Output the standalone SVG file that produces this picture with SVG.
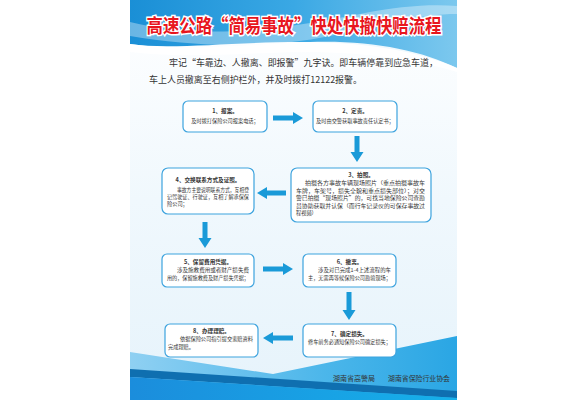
<svg xmlns="http://www.w3.org/2000/svg" width="588" height="400" viewBox="0 0 588 400">
<defs>
<linearGradient id="bg" x1="0" y1="0" x2="0" y2="1">
<stop offset="0" stop-color="#ffffff"/><stop offset="0.5" stop-color="#f0f8fd"/><stop offset="1" stop-color="#e6f3fb"/>
</linearGradient>
<linearGradient id="hdr" x1="0" y1="0" x2="1" y2="0">
<stop offset="0" stop-color="#1a8fd6"/><stop offset="0.5" stop-color="#3aa8e4"/><stop offset="1" stop-color="#7cc8ee"/>
</linearGradient>
<linearGradient id="bot" x1="0" y1="0" x2="1" y2="0">
<stop offset="0" stop-color="#8fd0f2"/><stop offset="0.6" stop-color="#4bb6ea"/><stop offset="1" stop-color="#2aa6e4"/>
</linearGradient>
<linearGradient id="bot2" x1="0" y1="0" x2="1" y2="0">
<stop offset="0" stop-color="#1b8ddc"/><stop offset="1" stop-color="#16b0ea"/>
</linearGradient>
<style>
.box{fill:#ffffff;stroke:#3da3de;stroke-width:1.2}
.arr{fill:#1a9ad8}
.t{font-family:"Noto Sans CJK SC","Liberation Sans",sans-serif;fill:#333333}
.bt{font-size:5.6px;font-weight:bold;text-anchor:middle}
.bd{font-size:5.2px}
</style>
</defs>
<rect x="0" y="0" width="588" height="400" fill="#ffffff"/>
<rect x="130" y="0" width="327" height="400" fill="url(#bg)"/>
<!-- header -->
<path d="M130,0 H457 V68 C420,52 370,42 300,42 C230,42 170,50 130,44 Z" fill="url(#hdr)"/>
<path d="M130,22 C200,40 280,30 360,14 C400,6 430,4 457,6 V14 C420,14 380,24 330,36 C260,50 190,46 130,36 Z" fill="#ffffff" opacity="0.35"/>
<path d="M130,44 C190,52 250,44 310,42 C370,40 420,50 457,68 V72 C410,58 360,52 300,52 C230,54 180,58 130,52 Z" fill="#ffffff" opacity="0.9"/>
<text class="t" x="294" y="33" font-size="19" font-weight="bold" fill="#e8161e" stroke="#ffffff" stroke-width="3" paint-order="stroke" text-anchor="middle" textLength="295" lengthAdjust="spacingAndGlyphs" style="fill:#e8161e">高速公路“简易事故”快处快撤快赔流程</text>
<text class="t" x="169" y="66" font-size="9" textLength="269" lengthAdjust="spacingAndGlyphs">牢记“车靠边、人撤离、即报警”九字诀。即车辆停靠到应急车道，</text>
<text class="t" x="149" y="83" font-size="9" textLength="213" lengthAdjust="spacingAndGlyphs">车上人员撤离至右侧护栏外，并及时拨打12122报警。</text>
<!-- bottom -->
<path d="M130,352 L273,374 L457,336 V400 H130 Z" fill="url(#bot)"/>
<path d="M130,369 L457,391 V398 L130,377 Z" fill="#0f6fb0"/>
<path d="M130,377 L457,398 V400 H130 Z" fill="url(#bot2)"/>
<g id="footer">
<text class="t" x="333" y="381" font-size="6.5" textLength="42" lengthAdjust="spacingAndGlyphs">湖南省高警局</text>
<text class="t" x="388" y="381" font-size="6.5" textLength="62" lengthAdjust="spacingAndGlyphs">湖南省保险行业协会</text>
</g>
<!-- connectors -->
<g id="connectors">
<polygon class="arr" points="273,115.5 293,115.5 293,112 303,118 293,124 293,120.5 273,120.5"/>
<polygon class="arr" points="354.5,136 359.5,136 359.5,152 363.5,152 357,162 350.5,152 354.5,152"/>
<polygon class="arr" points="286,190.5 267,190.5 267,187 257,193 267,199 267,195.5 286,195.5"/>
<polygon class="arr" points="202.5,222 207.5,222 207.5,238 211.5,238 205,248 198.5,238 202.5,238"/>
<polygon class="arr" points="263,266.5 283,266.5 283,263 293,269 283,275 283,271.5 263,271.5"/>
<polygon class="arr" points="346.5,292 351.5,292 351.5,310 355.5,310 349,320 342.5,310 346.5,310"/>
<polygon class="arr" points="293,335.5 273,335.5 273,332 263,338 273,344 273,340.5 293,340.5"/>
</g>
<g id="n1">
<rect class="box" x="183" y="101" width="84" height="31" rx="5"/>
<text class="t bt" x="225" y="113">1、报案。</text>
<text class="t bd" x="225" y="122.5" text-anchor="middle">及时拨打保险公司报案电话；</text>
</g>
<g id="n2">
<rect class="box" x="313" y="101" width="84" height="31" rx="5"/>
<text class="t bt" x="355" y="113">2、定责。</text>
<text class="t bd" x="355" y="122.5" text-anchor="middle">及时由交警获取事故责任认定书；</text>
</g>
<g id="n3">
<rect class="box" x="291" y="168" width="140" height="54" rx="6"/>
<text class="t bt" x="361" y="176.5">3、拍照。</text>
<text class="t bd" x="305" y="185" textLength="120" lengthAdjust="spacingAndGlyphs">拍摄各方事故车辆现场照片（重点拍摄事故车</text>
<text class="t bd" x="296" y="192.5" textLength="129" lengthAdjust="spacingAndGlyphs">车牌，车架号，损失全貌和重点损失部位）；对交</text>
<text class="t bd" x="296" y="200" textLength="129" lengthAdjust="spacingAndGlyphs">警已拍摄“现场照片”的，可找当地保险公司查勘</text>
<text class="t bd" x="296" y="207.5" textLength="129" lengthAdjust="spacingAndGlyphs">员协助获取并认保（而行车记录仪的可保存事故过</text>
<text class="t bd" x="296" y="215">程视频）</text>
</g>
<g id="n4">
<rect class="box" x="162" y="168" width="92" height="46" rx="6"/>
<text class="t bt" x="208" y="182">4、交换联系方式及证照。</text>
<text class="t bd" x="177" y="192" textLength="72" lengthAdjust="spacingAndGlyphs">事故方主要说明联系方式，互相登</text>
<text class="t bd" x="167" y="199" textLength="82" lengthAdjust="spacingAndGlyphs">记驾驶证、行驶证，互相了解承保保</text>
<text class="t bd" x="167" y="206">险公司；</text>
</g>
<g id="n5">
<rect class="box" x="162" y="254" width="92" height="33" rx="5"/>
<text class="t bt" x="208" y="263.5">5、保留费用凭据。</text>
<text class="t bd" x="177" y="272" textLength="72" lengthAdjust="spacingAndGlyphs">涉及施救费用或者财产损失费</text>
<text class="t bd" x="167" y="280" textLength="82" lengthAdjust="spacingAndGlyphs">用的，保留施救费及财产损失凭据；</text>
</g>
<g id="n6">
<rect class="box" x="303" y="254" width="93" height="33" rx="5"/>
<text class="t bt" x="349.5" y="263.5">6、撤离。</text>
<text class="t bd" x="318" y="272" textLength="73" lengthAdjust="spacingAndGlyphs">涉及对已完成1-4上述流程的车</text>
<text class="t bd" x="308" y="280" textLength="83" lengthAdjust="spacingAndGlyphs">主，无需再等候保险公司勘验现场；</text>
</g>
<g id="n7">
<rect class="box" x="303" y="324" width="93" height="33" rx="5"/>
<text class="t bt" x="349.5" y="336">7、确定损失。</text>
<text class="t bd" x="349.5" y="344" text-anchor="middle">修车前务必通知保险公司确定损失；</text>
</g>
<g id="n8">
<rect class="box" x="165" y="324" width="93" height="33" rx="5"/>
<text class="t bt" x="211.5" y="333">8、办理理赔。</text>
<text class="t bd" x="180" y="341" textLength="73" lengthAdjust="spacingAndGlyphs">依据保险公司指引提交索赔资料</text>
<text class="t bd" x="168" y="348.5">完成理赔。</text>
</g>
</svg>
